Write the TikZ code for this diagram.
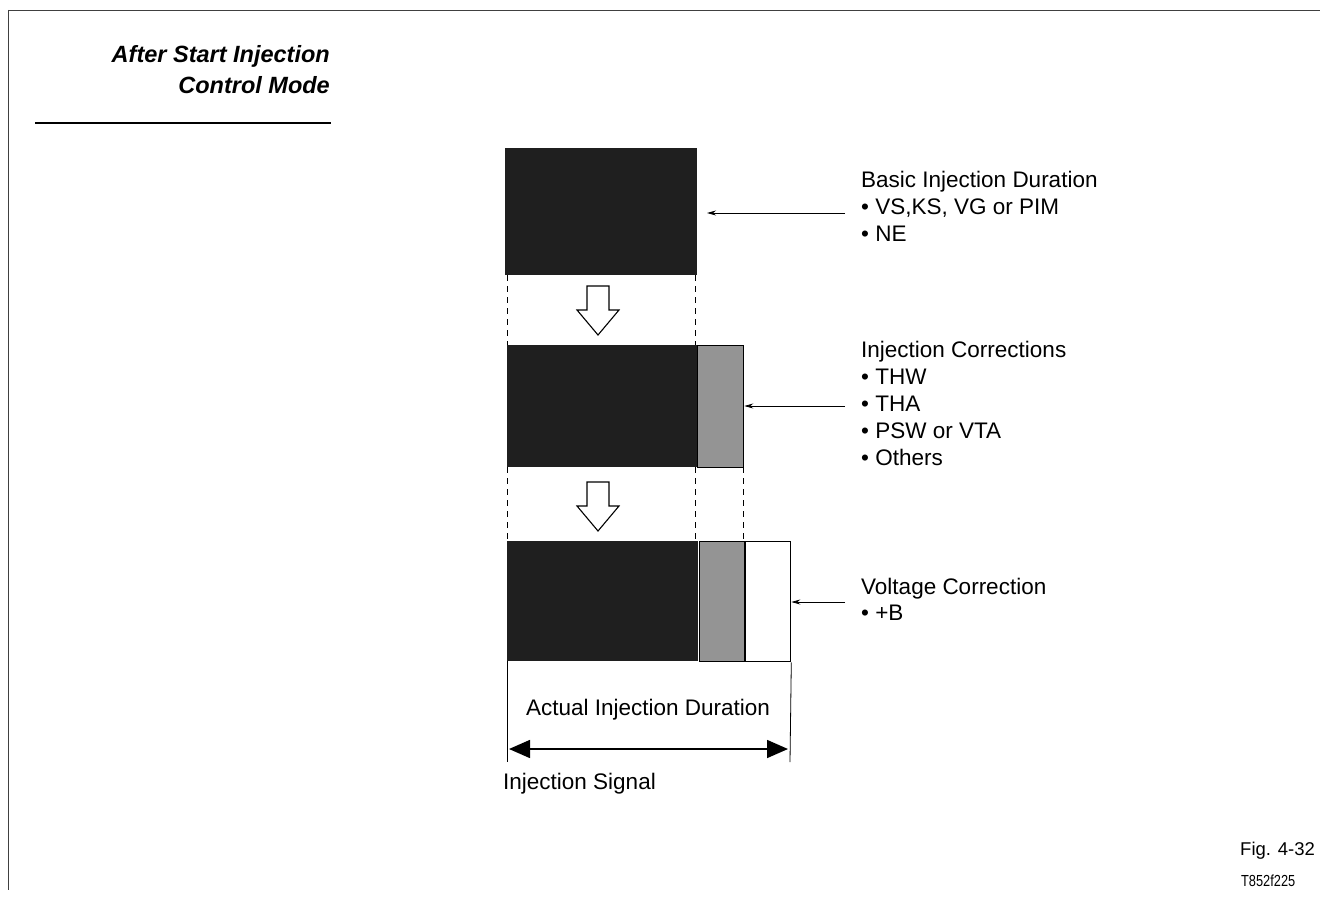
\documentclass[tikz,border=0pt]{standalone}
\usepackage{fontspec}
\setmainfont{Liberation Sans}
\usetikzlibrary{arrows.meta}
\begin{document}
\begin{tikzpicture}[x=1pt,y=-1pt,
  lbl/.style={inner sep=0pt,anchor=base west,font=\fontsize{22.5}{27}\selectfont},
  ttl/.style={inner sep=0pt,anchor=base east,font=\fontsize{23.5}{28}\selectfont\bfseries\itshape},
  darkblk/.style={rectangle,inner sep=0pt,anchor=north west,fill=black!88},
  grayblk/.style={rectangle,inner sep=0pt,anchor=north west,fill=black!42,draw=black,line width=1.3pt},
  whiteblk/.style={rectangle,inner sep=0pt,anchor=north west,fill=white,draw=black,line width=1.3pt},
  guide/.style={black,line width=0.8pt,dash pattern=on 6pt off 5pt},
  labarrow/.style={black,line width=0.8pt,-{Stealth[length=9pt,width=5pt]}},
  hollow/.style={draw=black,fill=white,line width=1.1pt,line join=miter},
  bigarrow/.style={black,line width=1.6pt,{Triangle[length=21pt,width=18pt]}-{Triangle[length=21pt,width=18pt]}}
]
\useasboundingbox (0,0) rectangle (1320,899);
% page border
\draw[black!75,line width=0.8pt] (8,10) -- (1320,10);
\draw[black!75,line width=0.8pt] (8,10) -- (8,890);
% title
\node[ttl] (t1) at (330,63) {After Start Injection};
\node[ttl] (t2) at (330,93) {Control Mode};
\draw[line width=1.8pt] (35,123) -- (331,123);

% blocks
\node[darkblk,minimum width=192pt,minimum height=127pt] (b1) at (505,148) {};
\node[darkblk,minimum width=190pt,minimum height=122pt] (b2d) at (507,345) {};
\node[grayblk,minimum width=46pt,minimum height=122pt] (b2g) at (697,345) {};
\node[darkblk,minimum width=191pt,minimum height=120pt] (b3d) at (507,541) {};
\node[grayblk,minimum width=45pt,minimum height=120pt] (b3g) at (699,541) {};
\node[whiteblk,minimum width=45pt,minimum height=120pt] (b3w) at (745,541) {};

% dashed guides
\draw[guide] (507,275) -- (507,345);
\draw[guide] (695,275) -- (695,345);
\draw[guide] (507,467) -- (507,541);
\draw[guide] (695,467) -- (695,541);
\draw[guide] (743,467) -- (743,541);

% hollow arrows
\draw[hollow] (587,286) -- (609,286) -- (609,310) -- (619,310) -- (598,335) -- (577,310) -- (587,310) -- cycle;
\draw[hollow] (587,482) -- (609,482) -- (609,506) -- (619,506) -- (598,531) -- (577,506) -- (587,506) -- cycle;

% labels
\node[lbl] (l1a) at (861,187) {Basic Injection Duration};
\node[lbl] (l1b) at (861,214) {\textbullet\ VS,KS, VG or PIM};
\node[lbl] (l1c) at (861,241) {\textbullet\ NE};
\node[lbl] (l2a) at (861,357) {Injection Corrections};
\node[lbl] (l2b) at (861,384) {\textbullet\ THW};
\node[lbl] (l2c) at (861,411) {\textbullet\ THA};
\node[lbl] (l2d) at (861,438) {\textbullet\ PSW or VTA};
\node[lbl] (l2e) at (861,465) {\textbullet\ Others};
\node[lbl] (l3a) at (861,594) {Voltage Correction};
\node[lbl] (l3b) at (861,620) {\textbullet\ +B};

\coordinate (a1) at (845,213);
\coordinate (a2) at (845,406);
\coordinate (a3) at (845,602);
\coordinate (e1) at (707,213);
\draw[labarrow] (a1) -- (e1);
\draw[labarrow] (a2) -- (b2g.east |- a2);
\draw[labarrow] (a3) -- (b3w.east |- a3);

% duration
\coordinate (v1) at (507,762);
\coordinate (v2) at (790,762);
\draw[line width=0.8pt] (b3d.south west) -- (v1);
\draw[line width=0.8pt] (b3w.south east) -- (v2);
\node[lbl,anchor=base] (act) at (648,715) {Actual Injection Duration};
\coordinate (d1) at (509,749);
\coordinate (d2) at (788,749);
\draw[bigarrow] (d1) -- (d2);
\node[lbl] (sig) at (503,789) {Injection Signal};

% figure refs
\node[lbl,font=\fontsize{18.5}{20}\selectfont] (fig) at (1240,855) {Fig. 4-32};
\node[lbl,font=\fontsize{16}{17}\selectfont,xscale=0.8] (code) at (1241,886) {T852f225};
\end{tikzpicture}
\end{document}
